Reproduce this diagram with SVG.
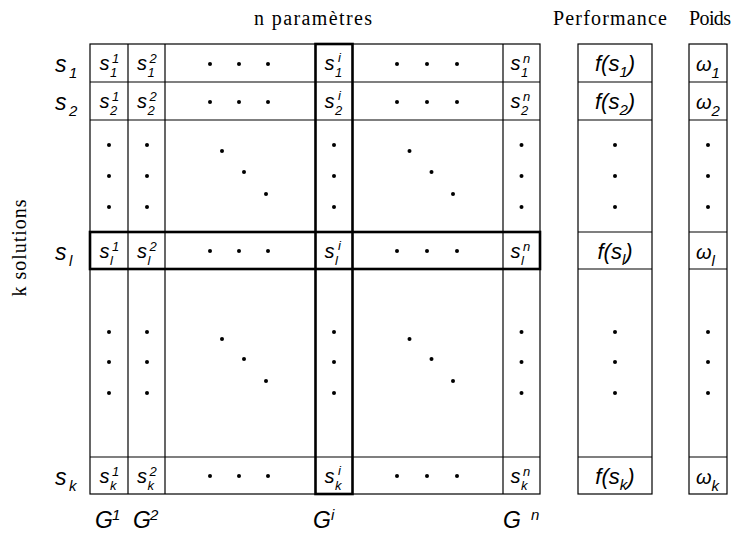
<svg xmlns="http://www.w3.org/2000/svg" width="742" height="535" viewBox="0 0 742 535">
<style>
.ln{stroke:#000;stroke-width:1.2;fill:none}
.bd{stroke:#000;stroke-width:2.6;fill:none}
.d{fill:#000}
</style>
<rect width="742" height="535" fill="#fff"/>
<g id="headers" font-family="'Liberation Serif', 'Times New Roman', serif" font-size="20" fill="#000">
<text x="313" y="25" text-anchor="middle" textLength="118">n paramètres</text>
<text x="610" y="25" text-anchor="middle" textLength="114">Performance</text>
<text x="710" y="25" text-anchor="middle" textLength="42">Poids</text>
<text transform="translate(26,248) rotate(-90)" text-anchor="middle" textLength="97">k solutions</text>
</g>
<g id="grid">
<rect class="ln" x="90" y="44" width="450" height="450"/>
<line class="ln" x1="90" y1="82" x2="540" y2="82"/>
<line class="ln" x1="90" y1="120" x2="540" y2="120"/>
<line class="ln" x1="90" y1="457" x2="540" y2="457"/>
<line class="ln" x1="128" y1="44" x2="128" y2="494"/>
<line class="ln" x1="165" y1="44" x2="165" y2="494"/>
<line class="ln" x1="503" y1="44" x2="503" y2="494"/>
<rect class="bd" x="90" y="232" width="450" height="37"/>
<rect class="bd" x="315.5" y="44" width="37" height="450"/>
</g>
<g id="performance" font-family="'Liberation Sans', Arial, sans-serif" font-style="italic" fill="#000">
<rect class="ln" x="578" y="44" width="74" height="450"/>
<line class="ln" x1="578" y1="82" x2="652" y2="82"/>
<line class="ln" x1="578" y1="120" x2="652" y2="120"/>
<line class="ln" x1="578" y1="232" x2="652" y2="232"/>
<line class="ln" x1="578" y1="269" x2="652" y2="269"/>
<line class="ln" x1="578" y1="457" x2="652" y2="457"/>
<text font-size="22" x="615" y="71" text-anchor="middle">f(s<tspan font-size="15" dy="6">1</tspan><tspan dy="-6">)</tspan></text>
<text font-size="22" x="615" y="109" text-anchor="middle">f(s<tspan font-size="15" dy="6">2</tspan><tspan dy="-6">)</tspan></text>
<text font-size="22" x="615" y="259" text-anchor="middle">f(s<tspan font-size="15" dy="6">l</tspan><tspan dy="-6">)</tspan></text>
<text font-size="22" x="615" y="484" text-anchor="middle">f(s<tspan font-size="15" dy="6">k</tspan><tspan dy="-6">)</tspan></text>
</g>
<g id="poids" font-family="'Liberation Sans', Arial, sans-serif" font-style="italic" fill="#000">
<rect class="ln" x="689" y="44" width="38" height="450"/>
<line class="ln" x1="689" y1="82" x2="727" y2="82"/>
<line class="ln" x1="689" y1="120" x2="727" y2="120"/>
<line class="ln" x1="689" y1="232" x2="727" y2="232"/>
<line class="ln" x1="689" y1="269" x2="727" y2="269"/>
<line class="ln" x1="689" y1="457" x2="727" y2="457"/>
<text font-size="20" x="696" y="71">ω<tspan font-size="15" dy="7">1</tspan></text>
<text font-size="20" x="696" y="109">ω<tspan font-size="15" dy="7">2</tspan></text>
<text font-size="20" x="696" y="259">ω<tspan font-size="15" dy="7">l</tspan></text>
<text font-size="20" x="696" y="484">ω<tspan font-size="15" dy="7">k</tspan></text>
</g>
<g id="row-labels" font-family="'Liberation Sans', Arial, sans-serif" font-style="italic" fill="#000">
<text font-size="23" x="55" y="72">s</text><text font-size="15" x="69" y="78">1</text>
<text font-size="23" x="55" y="110">s</text><text font-size="15" x="69" y="116">2</text>
<text font-size="23" x="55" y="260">s</text><text font-size="15" x="69" y="266">l</text>
<text font-size="23" x="55" y="485">s</text><text font-size="15" x="69" y="491">k</text>
</g>
<g id="cells" font-family="'Liberation Sans', Arial, sans-serif" font-style="italic" fill="#000" font-size="20">
<text x="99.5" y="70">s</text><text font-size="13" x="112" y="63">1</text><text font-size="13" x="110" y="77">1</text>
<text x="137" y="70">s</text><text font-size="13" x="149.5" y="63">2</text><text font-size="13" x="147.5" y="77">1</text>
<text x="324.5" y="70">s</text><text font-size="13" x="338" y="62">i</text><text font-size="13" x="335" y="77">1</text>
<text x="510.5" y="70">s</text><text font-size="13" x="523" y="63">n</text><text font-size="13" x="521" y="77">1</text>
<text x="99.5" y="108">s</text><text font-size="13" x="112" y="101">1</text><text font-size="13" x="110" y="115">2</text>
<text x="137" y="108">s</text><text font-size="13" x="149.5" y="101">2</text><text font-size="13" x="147.5" y="115">2</text>
<text x="324.5" y="108">s</text><text font-size="13" x="338" y="100">i</text><text font-size="13" x="335" y="115">2</text>
<text x="510.5" y="108">s</text><text font-size="13" x="523" y="101">n</text><text font-size="13" x="521" y="115">2</text>
<text x="99.5" y="258">s</text><text font-size="13" x="112" y="251">1</text><text font-size="13" x="110" y="265">l</text>
<text x="137" y="258">s</text><text font-size="13" x="149.5" y="251">2</text><text font-size="13" x="147.5" y="265">l</text>
<text x="324.5" y="258">s</text><text font-size="13" x="338" y="250">i</text><text font-size="13" x="335" y="265">l</text>
<text x="510.5" y="258">s</text><text font-size="13" x="523" y="251">n</text><text font-size="13" x="521" y="265">l</text>
<text x="99.5" y="483">s</text><text font-size="13" x="112" y="476">1</text><text font-size="13" x="110" y="490">k</text>
<text x="137" y="483">s</text><text font-size="13" x="149.5" y="476">2</text><text font-size="13" x="147.5" y="490">k</text>
<text x="324.5" y="483">s</text><text font-size="13" x="338" y="475">i</text><text font-size="13" x="335" y="490">k</text>
<text x="510.5" y="483">s</text><text font-size="13" x="523" y="476">n</text><text font-size="13" x="521" y="490">k</text>
</g>
<g id="column-labels" font-family="'Liberation Sans', Arial, sans-serif" font-style="italic" fill="#000">
<text font-size="23" x="95" y="528">G</text><text font-size="15" x="112" y="520">1</text>
<text font-size="23" x="133" y="528">G</text><text font-size="15" x="150" y="520">2</text>
<text font-size="23" x="313" y="528">G</text><text font-size="15" x="331" y="520">i</text>
<text font-size="23" x="503" y="528">G</text><text font-size="15" x="531" y="520">n</text>
</g>
<g id="dots" class="d">
<circle cx="210" cy="64" r="2"/><circle cx="239" cy="64" r="2"/><circle cx="268" cy="64" r="2"/>
<circle cx="397" cy="64" r="2"/><circle cx="427" cy="64" r="2"/><circle cx="457" cy="64" r="2"/>
<circle cx="210" cy="102" r="2"/><circle cx="239" cy="102" r="2"/><circle cx="268" cy="102" r="2"/>
<circle cx="397" cy="102" r="2"/><circle cx="427" cy="102" r="2"/><circle cx="457" cy="102" r="2"/>
<circle cx="210" cy="251" r="2"/><circle cx="239" cy="251" r="2"/><circle cx="268" cy="251" r="2"/>
<circle cx="397" cy="251" r="2"/><circle cx="427" cy="251" r="2"/><circle cx="457" cy="251" r="2"/>
<circle cx="210" cy="476" r="2"/><circle cx="239" cy="476" r="2"/><circle cx="268" cy="476" r="2"/>
<circle cx="397" cy="476" r="2"/><circle cx="427" cy="476" r="2"/><circle cx="457" cy="476" r="2"/>
<circle cx="109" cy="145" r="2"/><circle cx="109" cy="176" r="2"/><circle cx="109" cy="207" r="2"/>
<circle cx="147" cy="145" r="2"/><circle cx="147" cy="176" r="2"/><circle cx="147" cy="207" r="2"/>
<circle cx="334" cy="145" r="2"/><circle cx="334" cy="176" r="2"/><circle cx="334" cy="207" r="2"/>
<circle cx="521.5" cy="145" r="2"/><circle cx="521.5" cy="176" r="2"/><circle cx="521.5" cy="207" r="2"/>
<circle cx="615" cy="145" r="2"/><circle cx="615" cy="176" r="2"/><circle cx="615" cy="207" r="2"/>
<circle cx="708" cy="145" r="2"/><circle cx="708" cy="176" r="2"/><circle cx="708" cy="207" r="2"/>
<circle cx="222" cy="151" r="2"/><circle cx="244" cy="172" r="2"/><circle cx="266" cy="194" r="2"/>
<circle cx="409.5" cy="151" r="2"/><circle cx="431.5" cy="172" r="2"/><circle cx="453" cy="194" r="2"/>
<circle cx="109" cy="332" r="2"/><circle cx="109" cy="362" r="2"/><circle cx="109" cy="393" r="2"/>
<circle cx="147" cy="332" r="2"/><circle cx="147" cy="362" r="2"/><circle cx="147" cy="393" r="2"/>
<circle cx="334" cy="332" r="2"/><circle cx="334" cy="362" r="2"/><circle cx="334" cy="393" r="2"/>
<circle cx="521.5" cy="332" r="2"/><circle cx="521.5" cy="362" r="2"/><circle cx="521.5" cy="393" r="2"/>
<circle cx="615" cy="332" r="2"/><circle cx="615" cy="362" r="2"/><circle cx="615" cy="393" r="2"/>
<circle cx="708" cy="332" r="2"/><circle cx="708" cy="362" r="2"/><circle cx="708" cy="393" r="2"/>
<circle cx="222" cy="339" r="2"/><circle cx="244" cy="359" r="2"/><circle cx="266" cy="381" r="2"/>
<circle cx="409.5" cy="339" r="2"/><circle cx="431.5" cy="359" r="2"/><circle cx="453" cy="381" r="2"/>
</g>
</svg>
